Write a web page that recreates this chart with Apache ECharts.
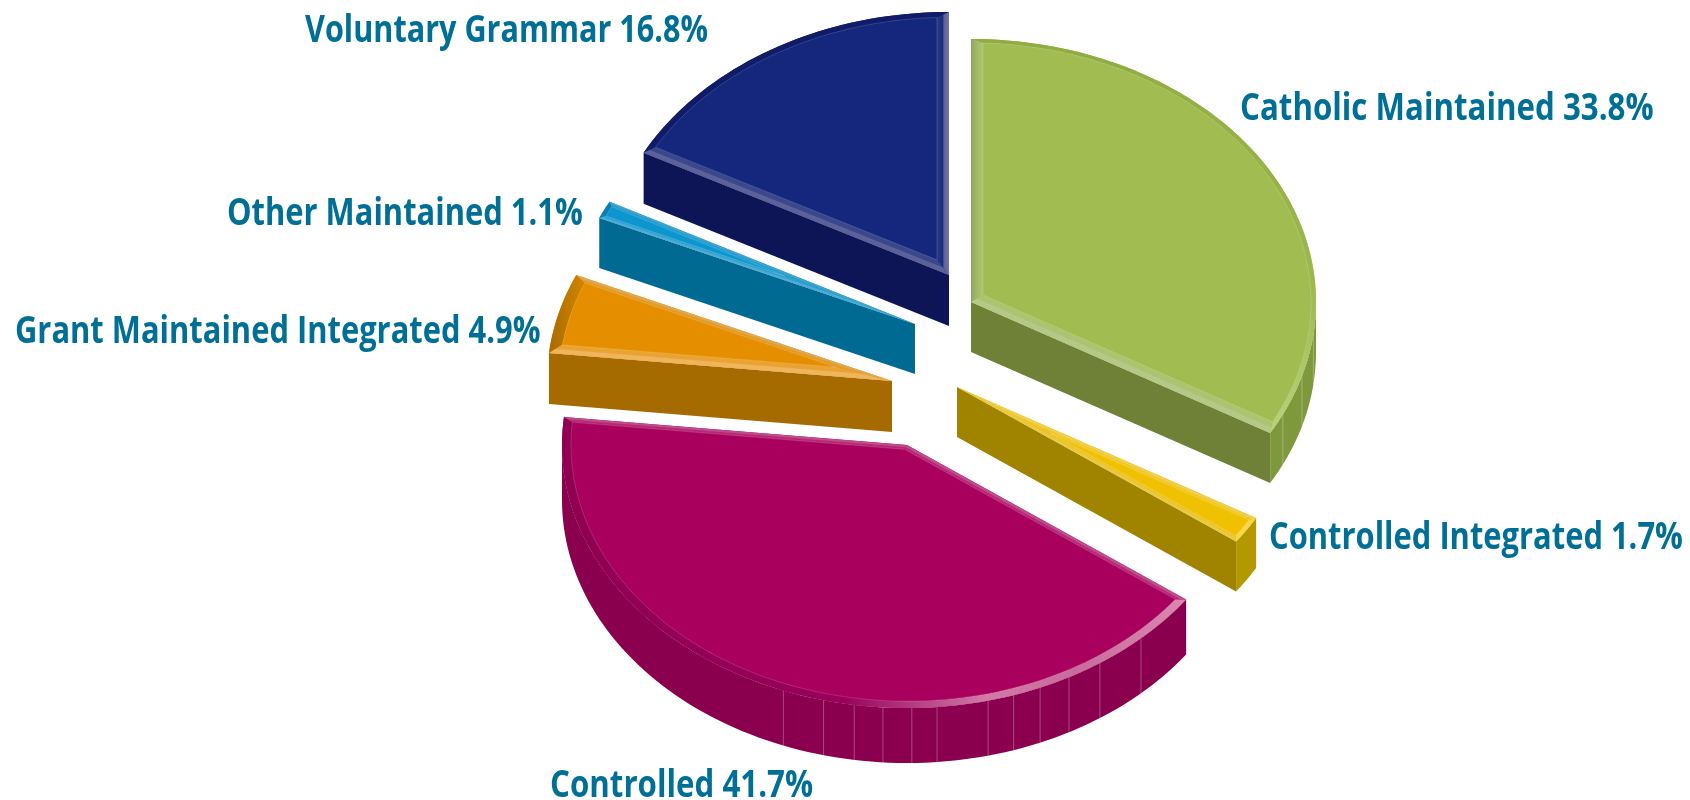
<!DOCTYPE html>
<html>
<head>
<meta charset="utf-8">
<style>html,body{margin:0;padding:0;background:#fff}#c{width:1690px;height:800px}</style>
<script src="https://cdn.jsdelivr.net/npm/echarts@6/dist/echarts.min.js"></script>
</head>
<body>
<div id="c"></div>
<script>
// ---- data ----
const categories = ['Catholic Maintained','Controlled Integrated','Controlled','Grant Maintained Integrated','Other Maintained','Voluntary Grammar'];
const shares = [33.8, 1.7, 41.7, 4.9, 1.1, 16.8];

// ---- layout constants ----
const RX = 345, RY = 263;
const apexes = [[971,302],[957,387],[907,445],[892,381],[915,324],[949,275]];
const depths = [50,50,55,51,50,51];
const labelAnchors = [[1240,109],[1269,538],[550,786],[15,332],[227,214],[305,31]];
const labelScales = [0.845,0.835,0.845,0.835,0.835,0.827];
const bevelWidths = [[12,14,5],[6,6,5],[6,6,9],[12,6,12],[5,5,5],[12,12,7]];
const wallFacets = [[97,106.4,115.3],[],[137.3,146,152,157.3,162,166.4,175,179.2,184,188.8,194,201],[],[],[]];
const perspectiveShift = 1.8;   // the drawn perspective turns inner slice edges by this many degrees

// ---- style constants ----
const lin = (x,y,x2,y2,stops) => ({type:'linear',x,y,x2,y2,colorStops:stops.map((c,i)=>({offset:c[0],color:c[1]}))});
const faceColors = ['#a1bd52','#efc100','#a9005e','#e58f00','#0c96d0','#15277d'];
const wallColors = ['#6f8137','#a08400','#8b004e','#a66b00','#006a92','#0d1557'];
const arcWallColors = ['#7e993c','#b39800','#8b004e','#a66b00','#006a92','#0d1557'];
const startBands = [
  lin(0,0,1,0,[[0,'#8ca655'],[1,'#b9cb8e']]), '#f0cf50', '#c14b8c', '#efb55c', '#52acd2',
  '#5c6299'];
const endBands = [
  '#b4c888', '#e9c948', '#c04a8a', '#e2a74a', '#3fa3cf',
  lin(0,0,1,0,[[0,'#3d4a92'],[.45,'#22307f'],[.6,'#5a6399'],[1,'#6e74a6']])];
const arcBands = [
  lin(0,0,0,1,[[0,'#8fab42'],[.6,'#9cb84c'],[1,'#b8d27a']]),
  '#f7d84a',
  lin(0,0,1,0,[[0,'#8f0050'],[.45,'#98005a'],[.68,'#d27aa8'],[.82,'#c96a9c'],[1,'#d989b0']]),
  lin(0,0,1,0,[[0,'#a86a00'],[1,'#d28600']]),
  '#0a7fb0',
  '#101c68'];
const textColor = '#006f96';
const labelFont = 'bold 37px "Open Sans"';

// ---- geometry helpers: every slice angle comes from the shares ----
const total = shares.reduce((a,b)=>a+b,0);
const rad = d => d*Math.PI/180;
const warp = a => a - perspectiveShift*Math.min(1, a/20, (360-a)/20);
const project = (c, plan) => [c[0]+plan[0], c[1]+plan[1]*RY/RX];
const planAt = (r, deg) => [r*Math.sin(rad(deg)), -r*Math.cos(rad(deg))];
function arcPlan(r,a,b){const n=Math.max(2,Math.ceil(Math.abs(b-a)/1.5));const out=[];for(let i=0;i<=n;i++)out.push(planAt(r,a+(b-a)*i/n));return out;}
const mid = (p,q) => [(p[0]+q[0])/2,(p[1]+q[1])/2];

function renderSlice(params, api){
  const i = params.dataIndex;
  const startShare = api.value(0), share = api.value(1);
  const a1 = warp(startShare/total*360), a2 = warp((startShare+share)/total*360);
  const c = apexes[i], d = depths[i];
  const kids = [];
  const poly = (pts, fill, extra) => kids.push({type:'polygon',shape:{points:pts},style:Object.assign({fill:fill,stroke:null},extra||{})});
  const down = p => [p[0],p[1]+d];
  const toScreen = list => list.map(p=>project(c,p));

  // side walls
  const pa1 = project(c,planAt(RX,a1)), pa2 = project(c,planAt(RX,a2));
  if (Math.cos(rad(a1-90))<-1e-6) poly([c,pa1,down(pa1),down(c)],wallColors[i]);
  if (Math.cos(rad(a2+90))<-1e-6) poly([c,pa2,down(pa2),down(c)],wallColors[i]);
  const w1 = Math.max(a1,90), w2 = Math.min(a2,270);
  if (w2>w1){
    const top = toScreen(arcPlan(RX,w1,w2));
    poly(top.concat(top.map(down).reverse()),arcWallColors[i]);
    wallFacets[i].forEach(f=>{
      const p = project(c,planAt(RX,f));
      kids.push({type:'line',shape:{x1:p[0],y1:p[1],x2:p[0],y2:p[1]+d},style:{stroke:'rgba(255,255,255,0.28)',lineWidth:1}});
    });
  }

  // top face with bevel bands
  const [wS,wE,wA] = bevelWidths[i];
  const R2 = RX-wA;
  const n1 = [Math.cos(rad(a1)),Math.sin(rad(a1))];
  const n2 = [-Math.cos(rad(a2)),-Math.sin(rad(a2))];
  const det = n1[0]*n2[1]-n1[1]*n2[0];
  let inner = [(wS*n2[1]-wE*n1[1])/det,(n1[0]*wE-n2[0]*wS)/det];
  let b1 = a1+Math.asin(wS/R2)*180/Math.PI, b2 = a2-Math.asin(wE/R2)*180/Math.PI;
  const collapsed = b1>=b2 || Math.hypot(inner[0],inner[1])>=R2;
  if (collapsed){ const m=(a1+a2)/2; b1=b2=m; inner=planAt(R2,m); }
  const outerArc = arcPlan(RX,a1,a2);
  const innerArc = collapsed?[inner]:arcPlan(R2,b1,b2);
  const zero = [0,0];
  poly(toScreen([zero].concat(outerArc)),faceColors[i]);
  poly(toScreen(outerArc.concat(innerArc.slice().reverse())),arcBands[i]);
  [[a1,b1,startBands[i]],[a2,b2,endBands[i]]].forEach(([oa,ia,fill])=>{
    const po = planAt(RX,oa), pi = planAt(R2,ia);
    poly(toScreen([zero,po,pi,inner]),fill);
    poly(toScreen([mid(zero,inner),mid(po,pi),pi,inner]),faceColors[i],{opacity:0.45});
  });
  if(!collapsed) kids.push({type:'polygon',shape:{points:toScreen([inner].concat(innerArc))},
    style:{fill:faceColors[i],stroke:'rgba(255,255,255,0.14)',lineWidth:1}});

  // label
  kids.push({type:'text',x:labelAnchors[i][0],y:labelAnchors[i][1],scaleX:labelScales[i],
    style:{text:categories[i]+' '+share+'%',x:0,y:0,font:labelFont,fill:textColor,align:'left',verticalAlign:'middle'}});
  return {type:'group',children:kids};
}

let running = 0;
const seriesData = shares.map((v,i)=>{const row=[running,v];running+=v;return {name:categories[i],value:row};});

const chart = echarts.init(document.getElementById('c'),null,{renderer:'canvas'});
chart.setOption({
  animation:false,
  backgroundColor:'#ffffff',
  series:[{type:'custom',coordinateSystem:'none',clip:false,silent:true,renderItem:renderSlice,data:seriesData}]
});
</script>
</body>
</html>
